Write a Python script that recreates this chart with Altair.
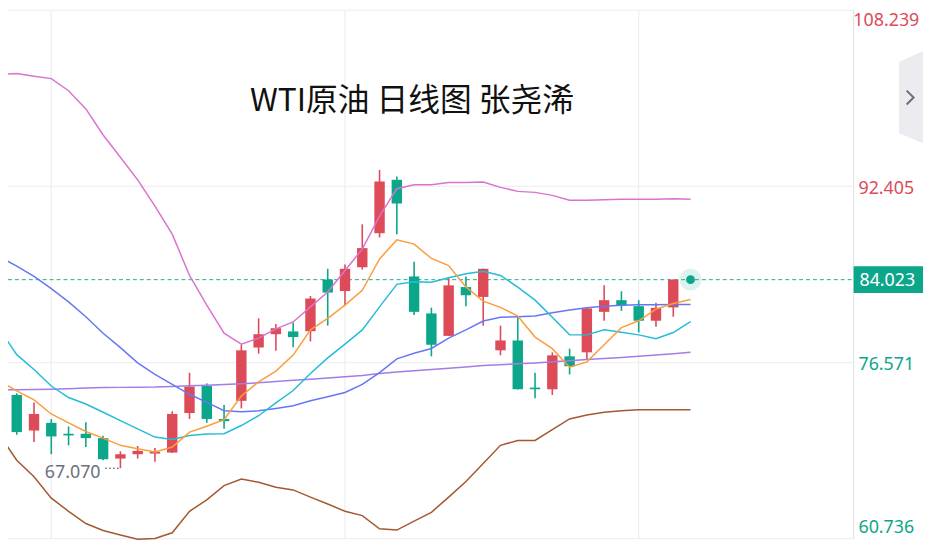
import altair as alt
import pandas as pd
import numpy as np

# ---------------- data ----------------
idx = list(range(40))
opens = [74.61, 73.66, 70.46, 71.15, 70.17, 70.17, 69.78, 67.94, 68.33, 68.39,
         68.48, 72.03, 74.46, 71.50, 73.13, 77.93, 79.12, 79.37, 79.39, 84.04,
         83.00, 85.14, 88.20, 93.00, 84.31, 80.99, 78.97, 83.36, 82.47, 77.67,
         78.56, 74.32, 74.17, 77.13, 77.49, 81.13, 82.18, 81.64, 80.33, 81.53]
highs = [74.79, 73.81, 72.99, 71.50, 70.82, 71.21, 69.99, 68.59, 69.07, 68.89,
         72.19, 75.66, 74.70, 72.75, 78.17, 80.55, 80.04, 80.17, 82.56, 85.00,
         85.38, 89.00, 93.89, 93.30, 85.64, 81.51, 84.16, 84.31, 85.02, 79.89,
         80.75, 75.66, 77.49, 77.82, 81.45, 83.51, 82.98, 82.18, 81.94, 84.05]
lows = [73.37, 70.08, 69.43, 68.33, 69.13, 68.98, 67.79, 67.07, 67.94, 67.65,
        68.45, 71.50, 71.15, 70.61, 72.45, 77.37, 77.64, 77.95, 78.47, 79.89,
        81.73, 84.93, 87.81, 88.11, 80.84, 77.13, 78.95, 81.64, 79.89, 77.22,
        74.15, 73.37, 73.66, 75.50, 76.84, 80.33, 81.22, 79.27, 79.80, 80.69]
closes = [73.55, 70.32, 71.95, 69.93, 70.02, 69.78, 67.88, 68.33, 68.63, 68.54,
          71.95, 74.41, 71.50, 71.30, 77.67, 79.12, 79.66, 78.86, 82.33, 82.86,
          85.00, 86.86, 92.85, 90.87, 81.13, 78.17, 83.51, 82.62, 85.00, 78.56,
          74.17, 74.17, 77.22, 76.24, 81.44, 82.18, 81.73, 80.33, 81.49, 84.023]

line_idx = list(range(41))
boll_upper = [102.46, 102.55, 102.32, 102.10, 101.01, 99.37, 97.03, 95.03, 93.00, 90.63,
              88.11, 84.40, 81.73, 79.21, 78.23, 78.77, 79.60, 80.22, 81.58, 82.91,
              84.84, 86.77, 89.74, 92.20, 92.56, 92.56, 92.76, 92.76, 92.81, 92.32,
              91.96, 91.87, 91.60, 91.16, 91.16, 91.20, 91.25, 91.25, 91.25, 91.29, 91.25]
boll_mid = [86.09, 85.24, 84.31, 83.22, 82.02, 80.69, 79.21, 77.91, 76.54, 75.50,
            74.61, 73.72, 72.99, 72.24, 72.15, 72.24, 72.45, 72.68, 73.13, 73.50,
            73.88, 74.61, 75.66, 76.90, 77.40, 77.84, 78.77, 79.51, 80.31, 80.64,
            80.69, 80.75, 81.05, 81.29, 81.49, 81.64, 81.73, 81.76, 81.76, 81.79, 81.79]
boll_lower = [70.08, 67.79, 66.31, 64.38, 63.20, 62.10, 61.48, 61.07, 60.68, 60.76,
              61.27, 63.20, 64.23, 65.51, 66.10, 65.81, 65.36, 65.12, 64.47, 63.85,
              63.20, 62.81, 61.63, 61.51, 62.31, 63.11, 64.47, 65.87, 67.50, 69.13,
              69.57, 69.57, 70.55, 71.50, 71.86, 72.10, 72.24, 72.33, 72.33, 72.33, 72.33]
ma5 = [74.91, 74.02, 73.22, 71.95, 71.15, 70.37, 69.78, 69.13, 68.83, 68.54,
       68.98, 70.32, 70.85, 71.44, 73.57, 74.84, 75.80, 77.24, 79.51, 80.55,
       81.73, 83.07, 85.89, 87.60, 87.22, 85.93, 85.29, 83.36, 82.09, 81.53,
       80.75, 78.86, 77.82, 76.15, 76.63, 78.17, 79.71, 80.33, 81.38, 81.88, 82.24]
ma10 = [79.57, 77.28, 75.95, 74.46, 73.43, 72.84, 72.10, 71.35, 70.61, 69.87,
        69.66, 70.02, 70.14, 70.17, 70.91, 71.79, 72.95, 74.06, 75.59, 76.99,
        78.23, 79.51, 81.58, 83.60, 83.84, 83.80, 84.20, 84.55, 84.78, 84.40,
        83.36, 82.18, 80.64, 79.06, 79.06, 79.51, 79.30, 79.06, 78.71, 79.27, 80.25]
ma60 = [74.11, 74.13, 74.15, 74.17, 74.22, 74.28, 74.32, 74.34, 74.36, 74.37,
        74.42, 74.48, 74.54, 74.60, 74.66, 74.75, 74.86, 74.97, 75.06, 75.18,
        75.29, 75.40, 75.59, 75.73, 75.84, 75.95, 76.06, 76.17, 76.30, 76.38,
        76.46, 76.54, 76.64, 76.74, 76.84, 76.94, 77.03, 77.13, 77.25, 77.37, 77.49]

series_names = ["ma60", "lower", "upper", "mid", "ma10", "ma5"]
series_colors = ["#a27de8", "#a5582f", "#da73cf", "#6677f2", "#24bcd8", "#fb9d3d"]

axis_ticks = [108.239, 92.405, 76.571, 60.736]
axis_labels = ["108.239", "92.405", "76.571", "60.736"]
last_price = 84.023
last_index = 40
low_mark_index = 7
low_mark_value = 67.070
low_mark_text = "67.070"
low_dots_start = 6.12
grid_x = [3, 20, 37]
title_text = "WTI原油 日线图 张尧浠"

RED = "#dd4b59"
GREEN = "#0ca68a"
GRID = "#efeff4"
W, H = 853, 533
FONT = "Noto Sans"

xs = alt.Scale(domain=[0.494, 49.44], nice=False, zero=False, padding=0)
ys = alt.Scale(domain=[60.736, 108.239], nice=False, zero=False, padding=0)

candles = pd.DataFrame({"i": idx, "open": opens, "high": highs, "low": lows, "close": closes})
candles["dir"] = np.where(candles["close"] >= candles["open"], "up", "down")
dir_color = alt.Color("dir:N", scale=alt.Scale(domain=["up", "down"], range=[RED, GREEN]), legend=None)

lines_df = pd.DataFrame({"i": line_idx, "ma60": ma60, "lower": boll_lower, "upper": boll_upper,
                         "mid": boll_mid, "ma10": ma10, "ma5": ma5})
lines_long = lines_df.melt("i", var_name="s", value_name="v")

# ---------------- layers ----------------
hgrid = alt.Chart(pd.DataFrame({"v": axis_ticks})).mark_rule(color=GRID, strokeWidth=1.3).encode(
    x=alt.value(0), x2=alt.value(W), y=alt.Y("v:Q", scale=ys, axis=None)
)
vgrid = alt.Chart(pd.DataFrame({"i": grid_x})).mark_rule(color=GRID, strokeWidth=1.3).encode(
    x=alt.X("i:Q", scale=xs, axis=None), y=alt.value(0), y2=alt.value(H)
)
ui_df = pd.DataFrame({"k": [0]})
right_edge = alt.Chart(ui_df).mark_rule(color="#e6e6ed", strokeWidth=1.3).encode(
    x=alt.value(W), y=alt.value(0), y2=alt.value(H)
)

last_df = pd.DataFrame({"i": [last_index], "v": [last_price], "lab": [f"{last_price:.3f}"]})

dash = alt.Chart(last_df).mark_rule(color="#23ab96", strokeDash=[4, 3], strokeWidth=1).encode(
    x=alt.value(0), x2=alt.value(W), y=alt.Y("v:Q", scale=ys, axis=None)
)

candle_base = alt.Chart(candles).encode(x=alt.X("i:Q", scale=xs, axis=None), color=dir_color)
wicks = candle_base.mark_rule(strokeWidth=1.6).encode(y=alt.Y("low:Q", scale=ys, axis=None), y2="high:Q")
bodies = candle_base.mark_bar(size=10.5).encode(y=alt.Y("open:Q", scale=ys, axis=None), y2="close:Q")
candle_layer = alt.layer(wicks, bodies)

lines = alt.Chart(lines_long).mark_line(strokeWidth=1.5).encode(
    x=alt.X("i:Q", scale=xs, axis=None),
    y=alt.Y("v:Q", scale=ys, axis=None),
    color=alt.Color("s:N", scale=alt.Scale(domain=series_names, range=series_colors), legend=None),
    detail="s:N",
)

glow = alt.Chart(last_df).mark_circle(size=480, opacity=0.15, color=GREEN).encode(
    x=alt.X("i:Q", scale=xs, axis=None), y=alt.Y("v:Q", scale=ys, axis=None)
)
dot = alt.Chart(last_df).mark_circle(size=80, opacity=1, color=GREEN).encode(
    x=alt.X("i:Q", scale=xs, axis=None), y=alt.Y("v:Q", scale=ys, axis=None)
)

low_df = pd.DataFrame({"i": [low_mark_index], "i0": [low_dots_start], "v": [low_mark_value], "lab": [low_mark_text]})
low_dots = alt.Chart(low_df).mark_rule(color="#6b7080", strokeDash=[1.5, 2.5], strokeWidth=1.5).encode(
    x=alt.X("i0:Q", scale=xs, axis=None), x2="i:Q", y=alt.Y("v:Q", scale=ys, axis=None)
)
low_text = alt.Chart(low_df).mark_text(align="right", baseline="middle", dx=-20, dy=5, fontSize=18,
                                       font=FONT, color="#6b7080").encode(
    x=alt.X("i:Q", scale=xs, axis=None), y=alt.Y("v:Q", scale=ys, axis=None), text="lab:N"
)

lab_df = pd.DataFrame({"v": axis_ticks, "lab": axis_labels,
                       "col": [RED if t > last_price else GREEN for t in axis_ticks]})


def ylab(df, dy):
    return alt.Chart(df).mark_text(align="center", baseline="middle", dy=dy, fontSize=18, font=FONT).encode(
        x=alt.value(W + 33), y=alt.Y("v:Q", scale=ys, axis=None), text="lab:N",
        color=alt.Color("col:N", scale=None),
    )


lab_top = ylab(lab_df.iloc[[0]], 11)
lab_mid = ylab(lab_df.iloc[[1, 2]], 3)
lab_bot = ylab(lab_df.iloc[[3]], -11)

box = alt.Chart(last_df).mark_point(
    shape="M -1 -0.3857 L 1 -0.3857 L 1 0.3857 L -1 0.3857 Z", filled=True, opacity=1, size=4900,
    color=GREEN, strokeWidth=0,
).encode(x=alt.value(W + 35), y=alt.Y("v:Q", scale=ys, axis=None))
box_text = alt.Chart(last_df).mark_text(align="center", baseline="middle", fontSize=18, font=FONT,
                                        color="white", dy=1).encode(
    x=alt.value(W + 34), y=alt.Y("v:Q", scale=ys, axis=None), text="lab:N"
)

button = alt.Chart(ui_df).mark_point(
    shape="M -0.258 -0.763 L 0.258 -1 L 0.258 1 L -0.258 0.785 Z", filled=True, opacity=1, size=8649,
    color="#ebebf0", strokeWidth=0,
).encode(x=alt.value(911), y=alt.value(87.5))
chevron = alt.Chart(ui_df).mark_point(
    shape="M -0.5 -1 L 0.5 0 L -0.5 1", filled=False, opacity=1, size=196, color="#6b6e7a", strokeWidth=2,
).encode(x=alt.value(910), y=alt.value(88))

chart = alt.layer(
    hgrid, vgrid, right_edge, dash, candle_layer, lines, glow, dot, low_dots, low_text,
    lab_top, lab_mid, lab_bot, box, box_text, button, chevron,
).resolve_scale(color="independent").properties(
    width=W, height=H,
    background="white",
    autosize=alt.AutoSizeParams(type="none"),
    padding={"left": 0, "top": 0, "right": 72, "bottom": 0},
    title=alt.TitleParams(title_text, font="Noto Sans CJK SC", fontSize=32, fontWeight="normal",
                          color="#111111", anchor="middle", frame="group", baseline="middle",
                          offset=-124, dx=-19),
).configure_view(stroke=None)

chart.save("out.html", embed_options={"renderer": "svg", "actions": False})
